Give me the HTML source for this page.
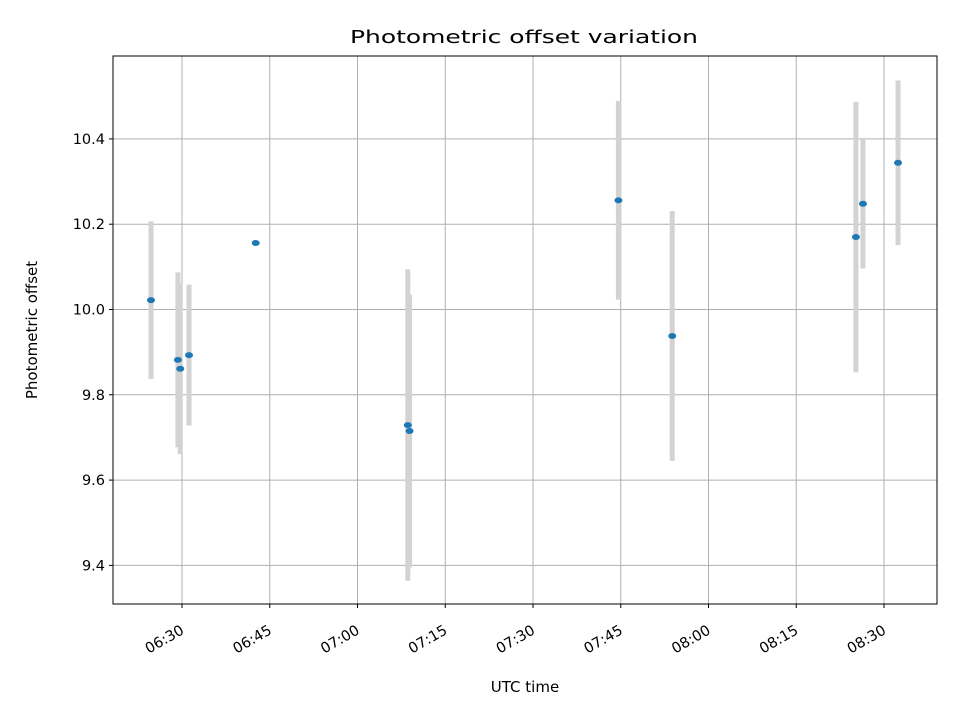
<!DOCTYPE html>
<html><head><meta charset="utf-8"><style>
body{margin:0;background:#fff;}
svg{display:block;font-family:"DejaVu Sans","Liberation Sans",sans-serif;}
</style></head><body>
<svg id="chart" width="960" height="720" viewBox="0 0 960 720">
<rect width="960" height="720" fill="#fff"/>
<text x="524" y="43" font-size="18" text-anchor="middle" textLength="348" lengthAdjust="spacingAndGlyphs">Photometric offset variation</text>
<g id="grid"></g>
<g id="bars"></g>
<g id="ticks"></g>
<rect x="113" y="56" width="824" height="548" fill="none" stroke="#000" stroke-width="1"/>
<text x="525" y="692" font-size="15" text-anchor="middle">UTC time</text>
<text x="0" y="0" font-size="15" text-anchor="middle" transform="translate(37,330) rotate(-90)">Photometric offset</text>
</svg>
<script>
// minutes after 06:00 UTC
const times = [24.7, 29.3, 29.7, 31.2, 42.6, 68.6, 68.9, 104.6, 113.8, 145.2, 146.4, 152.4];
const offsets = [10.022, 9.882, 9.861, 9.893, 10.156, 9.729, 9.715, 10.256, 9.938, 10.170, 10.248, 10.344];
const errors = [0.185, 0.205, 0.2, 0.165, null, 0.365, 0.32, 0.233, 0.293, 0.317, 0.152, 0.193];
const xTickMinutes = [30, 45, 60, 75, 90, 105, 120, 135, 150];
const xTickLabels = ["06:30","06:45","07:00","07:15","07:30","07:45","08:00","08:15","08:30"];
const yTicks = [9.4, 9.6, 9.8, 10.0, 10.2, 10.4];
const yTickLabels = ["9.4","9.6","9.8","10.0","10.2","10.4"];

const NS = "http://www.w3.org/2000/svg";
const L = 113, R = 937, T = 56, B = 604;
function xs(m){ return 182 + (m - 30) * (87.75 / 15); }
function ys(v){ return 309.5 - (v - 10) * 426.5; }
function mk(tag, attrs, parent){ const e = document.createElementNS(NS, tag); for (const k in attrs) e.setAttribute(k, attrs[k]); parent.appendChild(e); return e; }
const grid = document.getElementById("grid"), ticks = document.getElementById("ticks"), bars = document.getElementById("bars");

xTickMinutes.forEach((m, i) => {
  const x = xs(m);
  const g = mk("line", {x1:x, x2:x, y1:T, y2:B, stroke:"#b0b0b0", "stroke-width":1}, grid);
  
  
  mk("line", {x1:x, x2:x, y1:B, y2:B+4, stroke:"#000"}, ticks);
  const t = mk("text", {x:0, y:0, "font-size":14.5, "text-anchor":"end", transform:`translate(${x+3},${B+29}) rotate(-30)`}, ticks);
  t.textContent = xTickLabels[i];
  
  
});
yTicks.forEach((v, i) => {
  const y = ys(v);
  const g = mk("line", {x1:L, x2:R, y1:y, y2:y, stroke:"#b0b0b0", "stroke-width":1}, grid);
  
  
  mk("line", {x1:L-4, x2:L, y1:y, y2:y, stroke:"#000"}, ticks);
  const t = mk("text", {x:L-8, y:y+5, "font-size":14.5, "text-anchor":"end"}, ticks);
  t.textContent = yTickLabels[i];
  
  
});
times.forEach((m, i) => {
  const x = xs(m), v = offsets[i], e = errors[i];
  if (e !== null) {
    const b = mk("line", {x1:x, x2:x, y1:ys(v+e), y2:ys(v-e), stroke:"#d3d3d3", "stroke-width":5}, bars);
    
    
  }
});
times.forEach((m, i) => {
  const p = mk("ellipse", {cx:xs(m), cy:ys(offsets[i]), rx:4, ry:3, fill:"#1f77b4"}, bars);
  
  
});
</script>
</body></html>
